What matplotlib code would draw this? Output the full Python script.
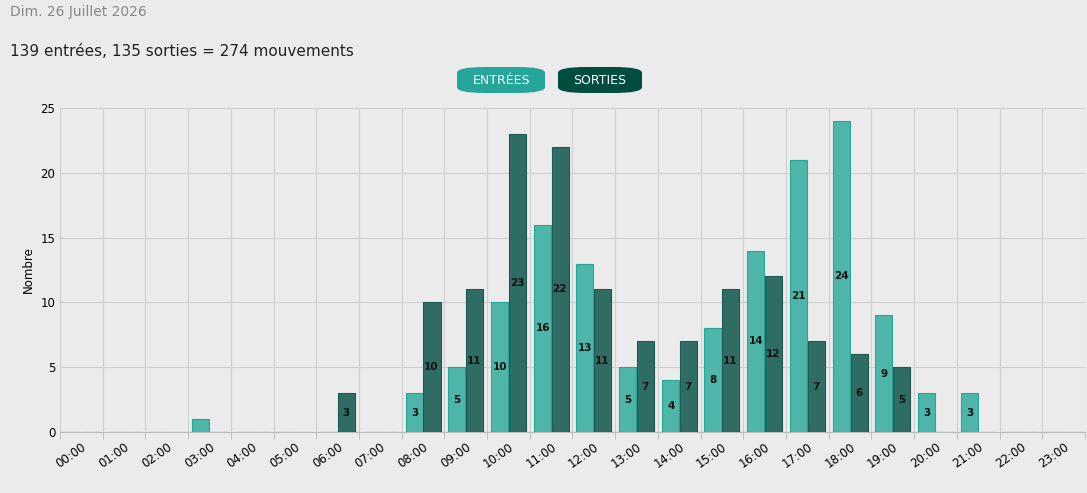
import numpy as np
import matplotlib.pyplot as plt
from matplotlib.patches import FancyBboxPatch

hours = [f"{h:02d}:00" for h in range(24)]
entrees = [0, 0, 0, 1, 0, 0, 0, 0, 3, 5, 10, 16, 13, 5, 4, 8, 14, 21, 24, 9, 3, 3, 0, 0]
sorties = [0, 0, 0, 0, 0, 0, 3, 0, 10, 11, 23, 22, 11, 7, 7, 11, 12, 7, 6, 5, 0, 0, 0, 0]

bg = '#ebebeb'
c_in = '#4db6a8'
c_out = '#2f6d64'

fig = plt.figure(figsize=(10.87, 4.93), dpi=100, facecolor=bg)
ax = fig.add_axes([60/1087, 1-432/493, 1025/1087, 324/493], facecolor=bg)

x = np.arange(24)
w = 0.4
ax.bar(x - w/2 - 0.01, entrees, w, color=c_in, edgecolor='#26a69a', linewidth=0.8, zorder=3)
ax.bar(x + w/2 + 0.01, sorties, w, color=c_out, edgecolor='#1f5a52', linewidth=0.8, zorder=3)
for i in range(24):
    if entrees[i] > 1:
        ax.text(x[i] - w/2, entrees[i]/2, str(entrees[i]), ha='center', va='center',
                fontsize=7.5, fontweight='bold', color='#111', zorder=4)
    if sorties[i] > 0:
        ax.text(x[i] + w/2, sorties[i]/2, str(sorties[i]), ha='center', va='center',
                fontsize=7.5, fontweight='bold', color='#111', zorder=4)

ax.set_xlim(-0.5, 23.5)
ax.set_ylim(0, 25)
ax.set_yticks([0, 5, 10, 15, 20, 25])
ax.set_xticks(x)
ax.set_xticklabels(hours, rotation=35, ha='right', rotation_mode='anchor', fontsize=8.5)
ax.set_xticks(np.arange(-0.5, 24, 1), minor=True)
ax.tick_params(axis='x', which='major', length=0, pad=6)
ax.tick_params(axis='x', which='minor', length=5, color='#bbb')
ax.tick_params(axis='y', length=0, labelsize=8.5)
ax.grid(True, which='minor', axis='x', color='#cfcfcf', linewidth=0.8, zorder=0)
ax.grid(True, which='major', axis='y', color='#cfcfcf', linewidth=0.8, zorder=0)
for s in ['top', 'right']:
    ax.spines[s].set_visible(False)
ax.spines['left'].set_color('#cfcfcf')
ax.spines['bottom'].set_color('#bbbbbb')
ax.set_ylabel('Nombre', fontsize=8.5)

fig.text(10/1087, 1-12/493, 'Dim. 26 Juillet 2026', fontsize=10, color='#888', va='center')
fig.text(10/1087, 1-51/493, '139 entrées, 135 sorties = 274 mouvements', fontsize=11,
         color='#222', va='center')

for cx, wbtn, label, col in [(501, 88, 'ENTRÉES', '#26a69a'), (600, 84, 'SORTIES', '#004d40')]:
    x0, y0 = (cx - wbtn/2)/1087, 1-93/493
    fig.patches.append(FancyBboxPatch((x0, y0), wbtn/1087, 26/493,
                                      boxstyle='round,pad=0,rounding_size=0.026',
                                      transform=fig.transFigure, facecolor=col,
                                      edgecolor='none', mutation_aspect=493/1087))
    fig.text(cx/1087, 1-80/493, label, color='white', fontsize=9, ha='center', va='center')

fig.savefig('out.png', dpi=100, facecolor=bg)
